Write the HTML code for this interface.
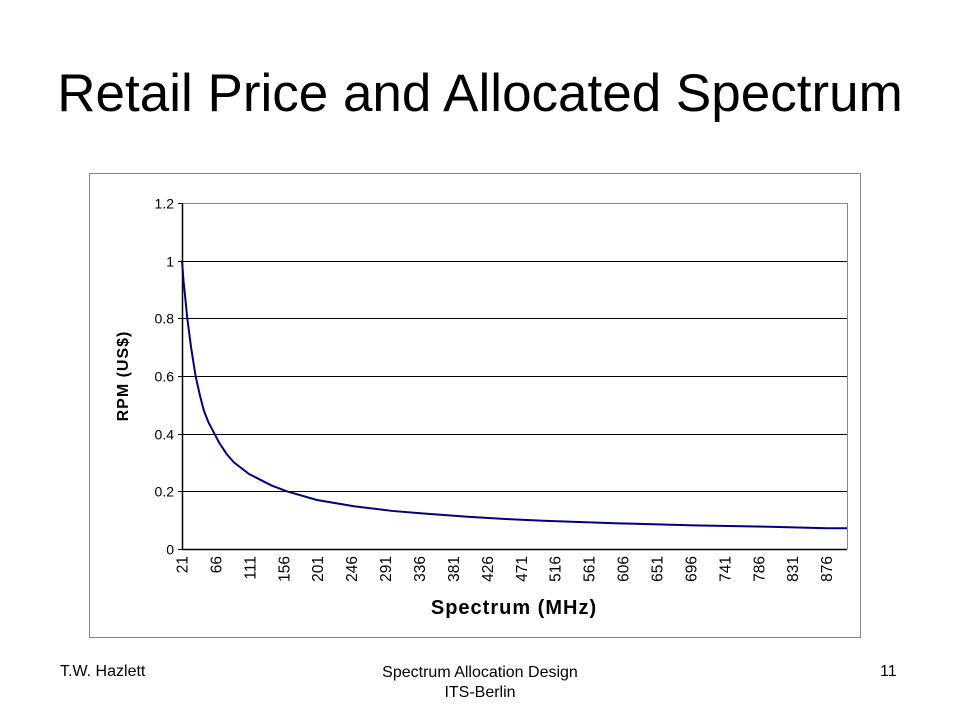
<!DOCTYPE html>
<html><head><meta charset="utf-8"><style>
body{margin:0;background:#fff;width:960px;height:720px;overflow:hidden;font-family:"Liberation Sans",Arial,sans-serif}
.t{position:absolute;white-space:nowrap}
</style></head><body>
<div class="t" style="left:0;width:960px;text-align:center;top:63px;font-size:53px;">Retail Price and Allocated Spectrum</div>
<svg width="960" height="720" style="position:absolute;left:0;top:0">
<rect x="89.5" y="173.5" width="771" height="464" fill="none" stroke="#888" stroke-width="1"/>
<g id="grid"></g><g id="axes"></g><g id="series"></g>
<text transform="translate(128,376) rotate(-90)" text-anchor="middle" font-size="16" letter-spacing="1" font-weight="bold" font-family="Liberation Sans">RPM (US$)</text>
<text x="514" y="614" text-anchor="middle" font-size="20" letter-spacing="1" font-weight="bold" font-family="Liberation Sans">Spectrum (MHz)</text>
</svg>
<div class="t" style="left:60px;top:663px;font-size:16px;">T.W. Hazlett</div>
<div class="t" style="left:330px;width:300px;text-align:center;top:663px;font-size:16px;line-height:20px;">Spectrum Allocation Design<br>ITS-Berlin</div>
<div class="t" style="left:880px;top:663px;font-size:16px;">11</div>
<script>
const xs=[21,23,25,28,33,39,45,50,56,64,70,80,90,100,110,125,140,160,200,250,300,337,400,450,500,600,700,800,876,903];
const ys=[1.0,0.93,0.88,0.8,0.7,0.6,0.53,0.48,0.44,0.4,0.37,0.33,0.3,0.28,0.26,0.24,0.22,0.2,0.17,0.148,0.132,0.124,0.112,0.104,0.098,0.089,0.082,0.077,0.072,0.072];
const xTicks=[21,66,111,156,201,246,291,336,381,426,471,516,561,606,651,696,741,786,831,876];
const yTicks=[0,0.2,0.4,0.6,0.8,1,1.2];
const X0=182,X1=847,Y0=549,Y1=203,XMIN=21,XMAX=903,YMAX=1.2;
const sx=v=>X0+(v-XMIN)/(XMAX-XMIN)*(X1-X0);
const sy=v=>Y0-v/YMAX*(Y0-Y1);
const NS="http://www.w3.org/2000/svg";
const mk=(t,a,p)=>{const e=document.createElementNS(NS,t);for(const k in a)e.setAttribute(k,a[k]);p.appendChild(e);return e;};
const g=document.getElementById('grid'),ax=document.getElementById('axes'),se=document.getElementById('series');
yTicks.forEach(v=>{
 const y=Math.round(sy(v))+0.5;
 if(v>0){const l=mk('line',{x1:X0,x2:X1,y1:y,y2:y,stroke:v==YMAX?'#888':'#000','stroke-width':1},g);
 
 }
 const tk=mk('line',{x1:X0-4,x2:X0,y1:y,y2:y,stroke:'#000'},ax);
 
 
 const t=mk('text',{x:X0-8,y:y+5,'text-anchor':'end','font-size':14,'font-family':'Liberation Sans'},ax);
 t.textContent=String(v);
 
 
});
const r=mk('line',{x1:X1+0.5,x2:X1+0.5,y1:Y1,y2:Y0,stroke:'#888'},ax);


const ya=mk('line',{x1:X0+0.5,x2:X0+0.5,y1:Y1,y2:Y0+0.5,stroke:'#000','stroke-width':1.5},ax);


const xa=mk('line',{x1:X0,x2:X1,y1:Y0+0.5,y2:Y0+0.5,stroke:'#000','stroke-width':1.5},ax);


xTicks.forEach(v=>{
 const x=sx(v);
 const t=mk('text',{transform:`translate(${x+5.5},${Y0+7}) rotate(-90)`,'text-anchor':'end','font-size':15.5,'font-family':'Liberation Sans'},ax);
 t.textContent=String(v);
 
 
});
const p=mk('polyline',{points:xs.map((v,i)=>sx(v)+','+sy(ys[i])).join(' '),fill:'none',stroke:'#000080','stroke-width':2,'stroke-linejoin':'round'},se);


</script>
</body></html>
